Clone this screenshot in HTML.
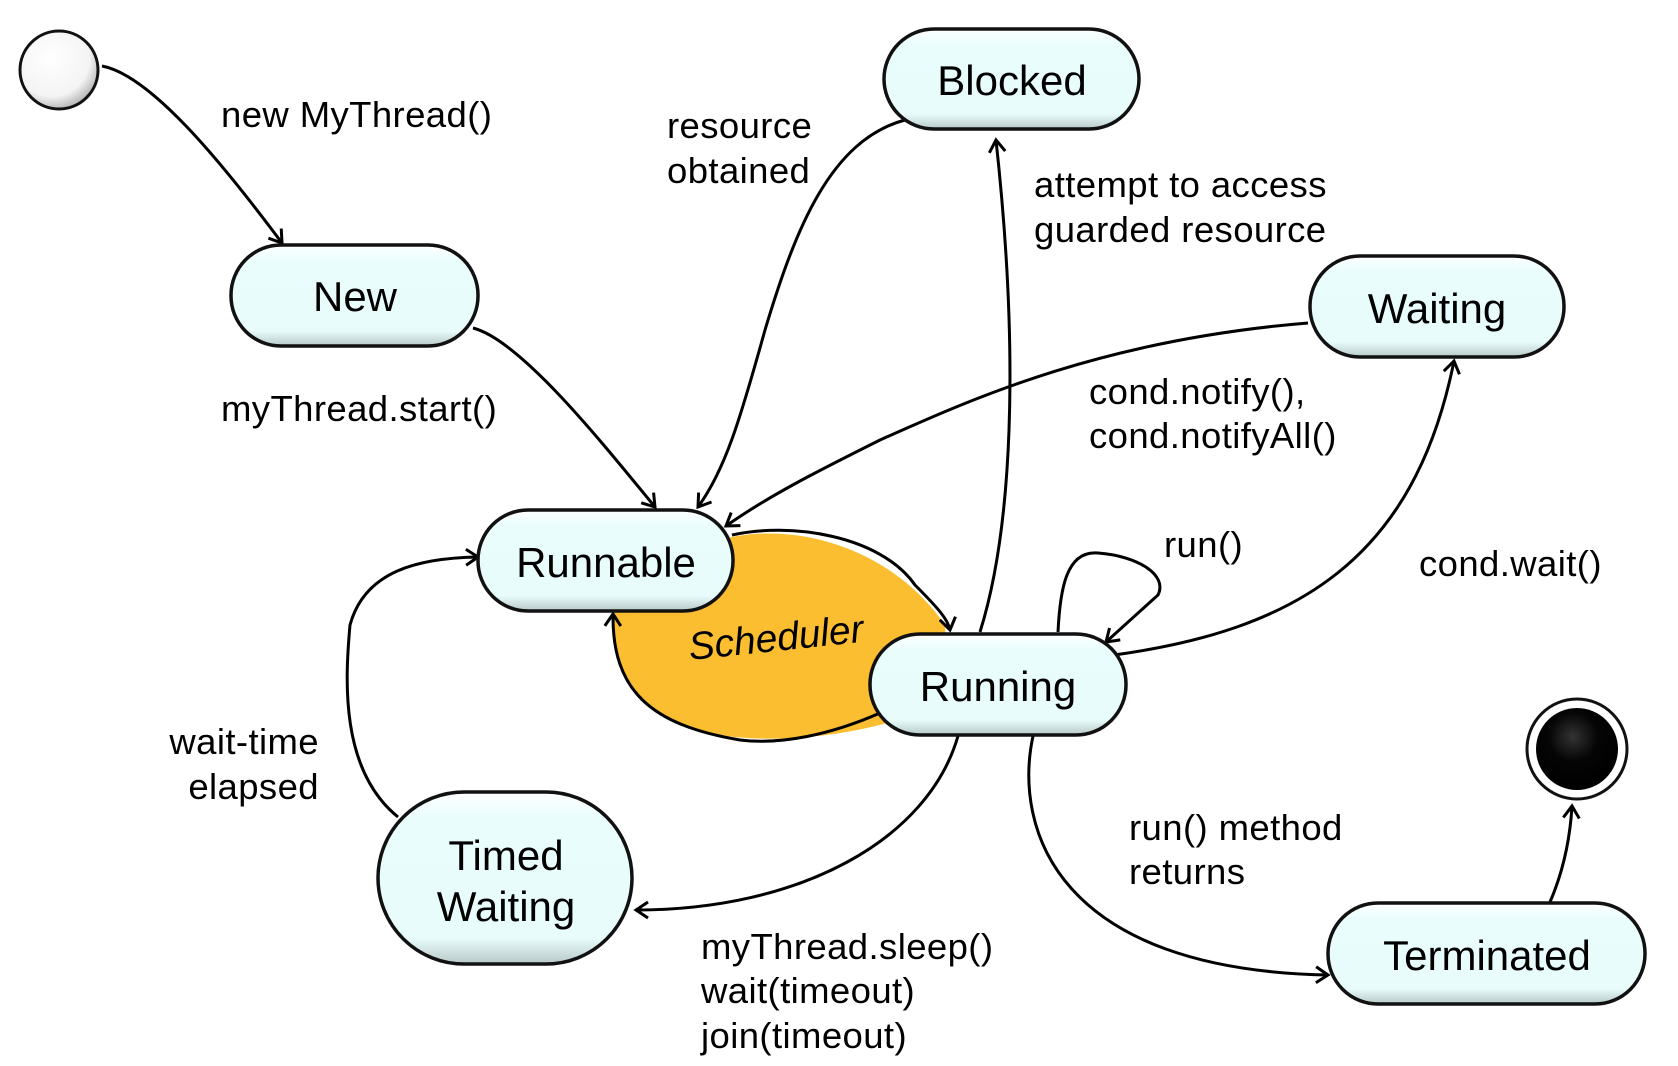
<!DOCTYPE html>
<html><head><meta charset="utf-8"><style>
html,body{margin:0;padding:0;background:#fff;}
svg{display:block;}
text{font-family:"Liberation Sans",sans-serif;fill:#000;}
.lbl{font-size:36.5px;letter-spacing:0.4px;}
.st{font-size:42px;text-anchor:middle;}
</style></head><body>
<svg width="1678" height="1066" viewBox="0 0 1678 1066" xmlns="http://www.w3.org/2000/svg">
<defs>
<linearGradient id="g" x1="0" y1="0" x2="0" y2="1">
<stop offset="0" stop-color="#ffffff"/><stop offset="0.15" stop-color="#eafdfd"/><stop offset="0.85" stop-color="#e8fcfc"/><stop offset="1" stop-color="#b8c8c8"/>
</linearGradient>
<radialGradient id="ic" cx="0.4" cy="0.35" r="0.7"><stop offset="0" stop-color="#fff"/><stop offset="0.7" stop-color="#f4f4f4"/><stop offset="1" stop-color="#aaa"/></radialGradient>
<radialGradient id="fc" cx="0.45" cy="0.35" r="0.6"><stop offset="0" stop-color="#333"/><stop offset="0.5" stop-color="#050505"/><stop offset="1" stop-color="#000"/></radialGradient>
<marker id="a" markerWidth="20" markerHeight="20" refX="16" refY="10" orient="auto" markerUnits="userSpaceOnUse">
<path d="M4,2 L16,10 L4,18" fill="none" stroke="#000" stroke-width="3"/>
</marker>
</defs>

<path d="M720,540 C790,520 890,545 945,625 L948,700 C880,735 780,745 720,735 C640,720 610,680 613,612 L700,600 Z" fill="#fbbe30"/>
<g fill="none" stroke="#000" stroke-width="3">
<path d="M732,535 C790,522 880,535 915,585 C940,610 948,620 950,630" marker-end="url(#a)"/>
<path d="M880,713 C830,735 780,745 740,740 C650,725 612,690 613,614" marker-end="url(#a)"/>
</g>
<text x="0" y="0" font-size="39" font-style="italic" transform="translate(690,660) rotate(-6)">Scheduler</text>

<g fill="none" stroke="#000" stroke-width="3">
<path d="M102,66 C150,75 220,160 282,243" marker-end="url(#a)"/>
<path d="M473,328 C520,340 600,440 655,507" marker-end="url(#a)"/>
<path d="M905,120 C830,140 795,230 765,330 C740,420 725,470 698,507" marker-end="url(#a)"/>
<path d="M980,632 C1012,530 1020,360 996,140" marker-end="url(#a)"/>
<path d="M1308,323 C1100,340 970,400 880,440 C820,470 770,495 726,526" marker-end="url(#a)"/>
<path d="M1114,655 C1296,630 1414,560 1454,361" marker-end="url(#a)"/>
<path d="M1058,632 C1060,590 1066,550 1098,553 C1138,556 1168,575 1158,595 L1106,642" marker-end="url(#a)"/>
<path d="M958,736 C928,840 800,910 636,910" marker-end="url(#a)"/>
<path d="M398,817 C340,770 345,680 350,625 C365,570 420,558 478,557" marker-end="url(#a)"/>
<path d="M1033,736 C1013,830 1058,970 1328,975" marker-end="url(#a)"/>
<path d="M1550,902 C1563,872 1570,840 1572,806" marker-end="url(#a)"/>
</g>

<circle cx="59" cy="70" r="39" fill="url(#ic)" stroke="#111" stroke-width="3"/>
<circle cx="1577" cy="749" r="50" fill="#fff" stroke="#111" stroke-width="3"/>
<circle cx="1577" cy="749" r="41" fill="url(#fc)"/>

<g stroke="#111" stroke-width="3.5" fill="url(#g)">
<rect x="231" y="245" width="247" height="101" rx="50"/>
<rect x="884" y="29" width="255" height="100" rx="50"/>
<rect x="1310" y="256" width="254" height="101" rx="50"/>
<rect x="478" y="510" width="255" height="101" rx="50"/>
<rect x="870" y="634" width="256" height="101" rx="50"/>
<rect x="378" y="792" width="254" height="172" rx="86"/>
<rect x="1328" y="903" width="317" height="101" rx="50"/>
</g>
<text class="st" x="355" y="311">New</text>
<text class="st" x="1012" y="95">Blocked</text>
<text class="st" x="1437" y="323">Waiting</text>
<text class="st" x="606" y="577">Runnable</text>
<text class="st" x="998" y="701">Running</text>
<text class="st" x="506" y="870">Timed</text>
<text class="st" x="506" y="921">Waiting</text>
<text class="st" x="1487" y="970">Terminated</text>

<text class="lbl" x="221" y="127">new MyThread()</text>
<text class="lbl" x="667" y="138">resource</text>
<text class="lbl" x="667" y="183">obtained</text>
<text class="lbl" x="1034" y="197">attempt to access</text>
<text class="lbl" x="1034" y="242">guarded resource</text>
<text class="lbl" x="221" y="421">myThread.start()</text>
<text class="lbl" x="1089" y="404">cond.notify(),</text>
<text class="lbl" x="1089" y="448">cond.notifyAll()</text>
<text class="lbl" x="1164" y="557">run()</text>
<text class="lbl" x="1419" y="576">cond.wait()</text>
<text class="lbl" x="319" y="754" text-anchor="end">wait-time</text>
<text class="lbl" x="319" y="799" text-anchor="end">elapsed</text>
<text class="lbl" x="1129" y="840">run() method</text>
<text class="lbl" x="1129" y="884">returns</text>
<text class="lbl" x="701" y="959">myThread.sleep()</text>
<text class="lbl" x="701" y="1003">wait(timeout)</text>
<text class="lbl" x="701" y="1048">join(timeout)</text>
</svg>
</body></html>
